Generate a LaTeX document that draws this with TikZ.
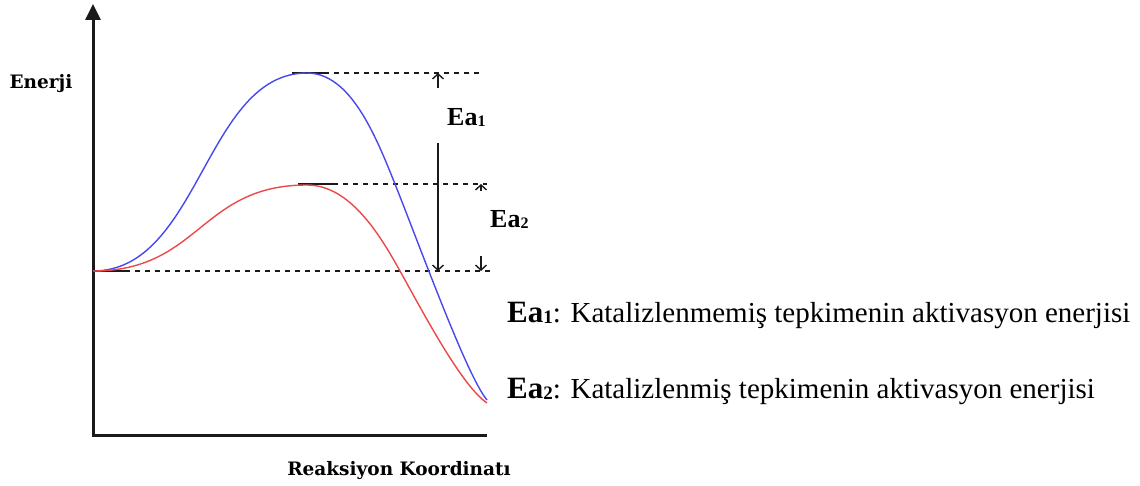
\documentclass[tikz,border=0pt]{standalone}
\usepackage{fontspec}
\setmainfont{Liberation Serif}
\newfontfamily\eksenfont{DejaVu Serif}
\usetikzlibrary{arrows.meta}
\definecolor{egriMavi}{HTML}{4848F0}
\definecolor{egriKirmizi}{HTML}{EC4848}
\definecolor{koyuGri}{HTML}{1A1A1A}
\newcommand{\altrakam}[2]{{\fontsize{#1}{#1}\selectfont\raisebox{-1pt}{#2}}}

\begin{document}
\begin{tikzpicture}[x=1pt,y=-1pt,
  eksen/.style={koyuGri,line width=3pt},
  kesik/.style={koyuGri,line width=1.2pt,dash pattern=on 5pt off 5pt},
  tepeCizgi/.style={koyuGri,line width=2pt},
  egri/.style={line width=1.4pt},
  okucu/.style={koyuGri,line width=1.4pt,-{Straight Barb[length=5pt,width=11pt]}},
  etiket/.style={inner sep=0pt,anchor=base west}]
\useasboundingbox (0,0) rectangle (1140,486);
% eksenler
\coordinate (orijin) at (93,435);
\coordinate (yUc) at (93,4);
\coordinate (xUc) at (487,435);
\draw[eksen,{Triangle[length=16pt,width=15pt]}-] (yUc) -- (orijin) -- (xUc);
\node[font=\eksenfont\bfseries\fontsize{18.5}{18.5}\selectfont] (enerji) at (41,84) {Enerji};
\node[font=\eksenfont\bfseries\fontsize{18.5}{18.5}\selectfont] (koordinat) at (399,471) {Reaksiyon Koordinatı};
% seviyeler
\coordinate (baslangic) at (93,271);
\coordinate (tepe1) at (307,73);
\coordinate (tepe2) at (307,185);
\draw[koyuGri,line width=1.2pt] (baslangic) -- (125,271);
\draw[kesik] (125,271) -- (493,271);
\draw[tepeCizgi] (292,73) -- (324,73);
\draw[kesik] (324,73) -- (483,73);
\draw[tepeCizgi] (298,184) -- (333,184);
\draw[kesik] (333,184) -- (487,184);
% egriler
\draw[egri,egriMavi] (baslangic) .. controls (200,271) and (205,73) .. (tepe1)
  .. controls (350,73) and (375,134) .. (395,184)
  .. controls (422,252) and (467,376) .. (487,400);
\draw[egri,egriKirmizi] (baslangic) .. controls (200,271) and (200,185) .. (tepe2)
  .. controls (350,185) and (380,235) .. (400,271)
  .. controls (425,316) and (462,386) .. (487,403);
% aktivasyon oklari
\coordinate (ea1ust) at (438,73);
\coordinate (ea1alt) at (438,271);
\coordinate (ea2ust) at (481,184);
\coordinate (ea2alt) at (481,271);
\draw[okucu] (438,88) -- (ea1ust);
\draw[okucu] (438,143) -- (ea1alt);
\draw[okucu] (481,191) -- (ea2ust);
\draw[okucu] (481,256) -- (ea2alt);
\node[etiket,font=\fontsize{26}{26}\selectfont\bfseries] (ea1) at (447,126) {Ea\altrakam{16}{1}};
\node[etiket,font=\fontsize{26}{26}\selectfont\bfseries] (ea2) at (490,228) {Ea\altrakam{16}{2}};
% aciklamalar
\node[etiket,font=\fontsize{29}{29}\selectfont] (aciklama1) at (507,322)
  {{\fontsize{31}{31}\selectfont\bfseries Ea\altrakam{19}{1}}: Katalizlenmemiş tepkimenin aktivasyon enerjisi};
\node[etiket,font=\fontsize{29}{29}\selectfont] (aciklama2) at (507,398)
  {{\fontsize{31}{31}\selectfont\bfseries Ea\altrakam{19}{2}}: Katalizlenmiş tepkimenin aktivasyon enerjisi};
\end{tikzpicture}
\end{document}
